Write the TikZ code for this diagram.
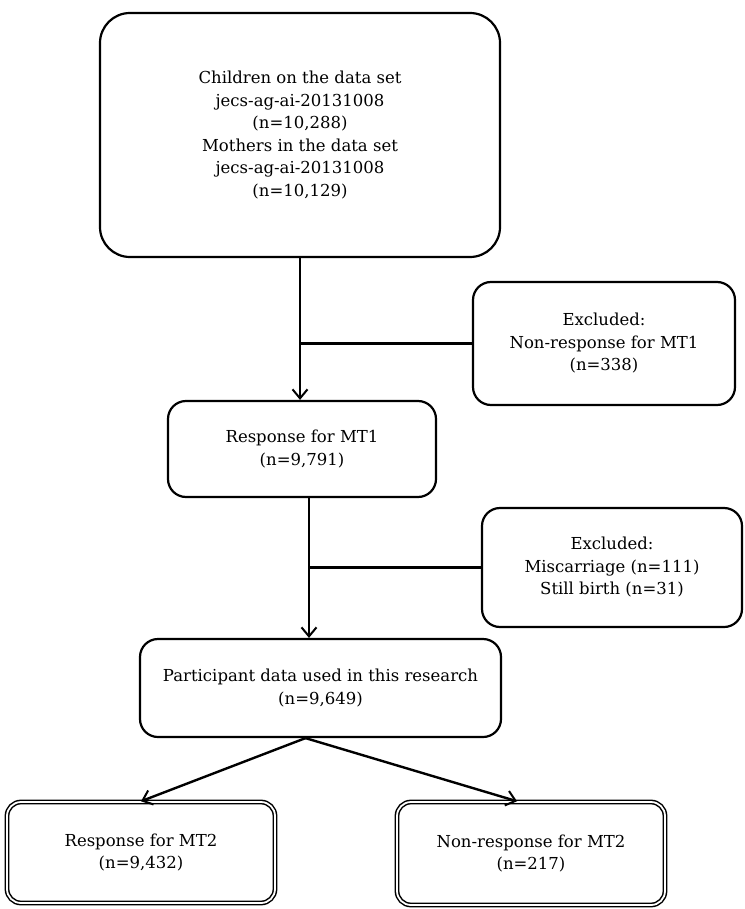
\documentclass[tikz,border=0pt]{standalone}
\usepackage{fontspec}
\setmainfont{DejaVu Serif}
\usetikzlibrary{arrows.meta,positioning}
\tikzset{
  box/.style={rectangle,draw,line width=2.2pt,rounded corners=18pt,align=center,inner sep=3pt},
  dbox/.style={rectangle,draw,line width=1.5pt,double,double distance=1.8pt,rounded corners=14pt,align=center,inner sep=3pt},
}
\begin{document}
\begin{tikzpicture}[x=1pt,y=-1pt,font=\fontsize{16.5}{22.5}\selectfont,
  ar/.style={-{Straight Barb[length=9pt,width=15pt,line width=2pt]},line width=2.4pt},
  ln/.style={line width=2.4pt}]
  \useasboundingbox (0,0) rectangle (744,909);
  \node[box,rounded corners=30pt,minimum width=400pt,minimum height=244pt] (data) at (300,135)
    {Children on the data set\\ jecs-ag-ai-20131008\\ (n=10,288)\\ Mothers in the data set\\ jecs-ag-ai-20131008\\ (n=10,129)};
  \node[box,minimum width=262pt,minimum height=123pt] (ex1) at (604,343.5)
    {Excluded:\\ Non-response for MT1\\ (n=338)};
  \node[box,minimum width=268pt,minimum height=96pt] (mt1) at (302,449)
    {Response for MT1\\ (n=9,791)};
  \node[box,minimum width=260pt,minimum height=119pt] (ex2) at (612,567.5)
    {Excluded:\\ Miscarriage (n=111)\\ Still birth (n=31)};
  \node[box,minimum width=361pt,minimum height=98pt] (used) at (320.5,688)
    {Participant data used in this research\\ (n=9,649)};
  \node[dbox,minimum width=268pt,minimum height=101pt] (resp2) at (141,852.5)
    {Response for MT2\\ (n=9,432)};
  \node[dbox,minimum width=268pt,minimum height=103pt] (nonresp2) at (531,853.5)
    {Non-response for MT2\\ (n=217)};
  \coordinate (j2) at ([xshift=7pt]mt1.south);
  \coordinate (split) at ([xshift=-15pt]used.south);
  % main flow
  \draw[ar] (data.south) -- (data.south |- mt1.north);
  \draw[ln] (ex1.west) -- (ex1.west -| data.south);
  \draw[ar] (j2) -- (j2 |- used.north);
  \draw[ln] (ex2.west) -- (ex2.west -| j2);
  \draw[ar] (split) -- (resp2.north);
  \draw[ar] (split) -- ([xshift=-14pt]nonresp2.north);
\end{tikzpicture}
\end{document}
